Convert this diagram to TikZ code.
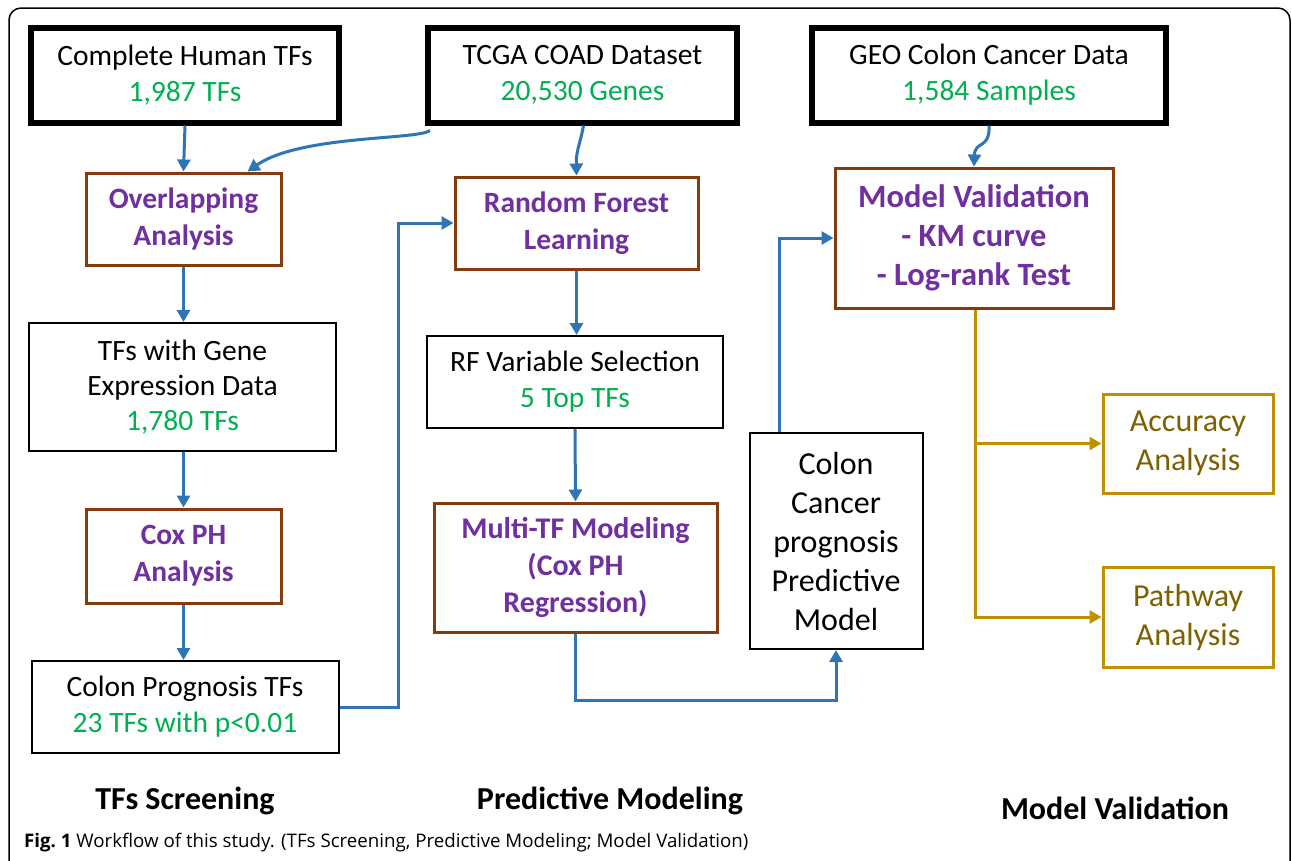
\documentclass[tikz,border=0pt]{standalone}
\usepackage{fontspec}
\setmainfont{Carlito}
\newfontfamily\capfont{Open Sans}
\usetikzlibrary{arrows.meta}
\definecolor{tfgreen}{HTML}{00B050}
\definecolor{tfpurple}{HTML}{7030A0}
\definecolor{tfbrown}{HTML}{843C0C}
\definecolor{tfblue}{HTML}{2E75B6}
\definecolor{tfgold}{HTML}{BF9000}
\definecolor{tfolive}{HTML}{7F6000}
\tikzset{
  base/.style={rectangle, align=center, inner sep=0pt, font=\fontsize{29.5}{36}\selectfont, fill=white},
  srcbox/.style={base, draw=black, line width=6pt},
  procbox/.style={base, draw=tfbrown, line width=3pt, text=tfpurple, font=\fontsize{29.5}{37}\selectfont\bfseries},
  databox/.style={base, draw=black, line width=2pt},
  outbox/.style={base, draw=tfgold, line width=3pt, text=tfolive, font=\fontsize{32}{39}\selectfont},
  flow/.style={draw=tfblue, line width=3pt, -{Triangle[width=13pt,length=12pt]}},
  goldflow/.style={draw=tfgold, line width=3pt, -{Triangle[width=13pt,length=12pt]}},
  phase/.style={font=\fontsize{32}{34}\selectfont\bfseries}
}
\begin{document}
\begin{tikzpicture}[x=1pt,y=-1pt]
\useasboundingbox (0,0) rectangle (1292,860);
\draw[line width=1.5pt, rounded corners=12pt] (9,870) -- (9,8) -- (1290,8) -- (1290,870);

% source boxes
\node[srcbox, minimum width=308, minimum height=95] (c1) at (185,75) {Complete Human TFs\\ \textcolor{tfgreen}{1,987 TFs}};
\node[srcbox, minimum width=309, minimum height=95] (c2) at (582.5,75) {TCGA COAD Dataset\\ \textcolor{tfgreen}{20,530 Genes}};
\node[srcbox, minimum width=354, minimum height=95] (c3) at (989,75) {GEO Colon Cancer Data\\ \textcolor{tfgreen}{1,584 Samples}};

% process boxes
\node[procbox, minimum width=195, minimum height=92] (ov) at (183.5,219) {Overlapping\\Analysis};
\node[procbox, minimum width=243, minimum height=92] (rf) at (576.5,223) {Random Forest\\Learning};
\node[procbox, minimum width=278, minimum height=140, font=\fontsize{32.5}{39}\selectfont\bfseries] (mv) at (974,238) {Model Validation\\- KM curve\\- Log-rank Test};
\node[procbox, minimum width=195, minimum height=94] (cox) at (183.5,556) {Cox PH\\Analysis};
\node[procbox, minimum width=283, minimum height=129, font=\fontsize{30}{37}\selectfont\bfseries] (mt) at (575.5,567.5) {Multi-TF Modeling\\(Cox PH\\Regression)};

% data boxes
\node[databox, minimum width=307, minimum height=128, font=\fontsize{29.5}{35}\selectfont] (tg) at (182.5,387) {TFs with Gene\\Expression Data\\ \textcolor{tfgreen}{1,780 TFs}};
\node[databox, minimum width=296, minimum height=92] (rv) at (575,382) {RF Variable Selection\\ \textcolor{tfgreen}{5 Top TFs}};
\node[databox, minimum width=307, minimum height=92] (cp) at (185,707) {Colon Prognosis TFs\\ \textcolor{tfgreen}{23 TFs with p<0.01}};
\node[databox, minimum width=173, minimum height=216, font=\fontsize{32}{39}\selectfont] (cc) at (836,541) {Colon\\Cancer\\prognosis\\Predictive\\Model};

% output boxes
\node[outbox, minimum width=170, minimum height=99] (acc) at (1188,443.5) {Accuracy\\Analysis};
\node[outbox, minimum width=170, minimum height=100] (pw) at (1188,617) {Pathway\\Analysis};

% phase labels
\node[phase] (p1) at (185,801) {TFs Screening};
\node[phase] (p2) at (610,801) {Predictive Modeling};
\node[phase] (p3) at (1115,808) {Model Validation};

% caption
\node[anchor=west, inner sep=0pt, font=\capfont\fontsize{18.7}{21}\selectfont] (cap) at (24,843) {\textbf{Fig.\ 1} Workflow of this study. (TFs Screening, Predictive Modeling; Model Validation)};

% connectors
\coordinate (c2sw) at ([xshift=5,yshift=-5]c2.south west);
\draw[flow] (c1.south) -- (ov.north);
\draw[flow] (c2sw) .. controls (418,140) and (300,135) .. ([xshift=64]ov.north);
\draw[flow] ([xshift=1]c2.south) .. controls (580,145) and (576,150) .. (rf.north);
\draw[flow] (c3.south) .. controls (990,150) and (975,140) .. (mv.north);
\draw[flow] (ov.south) -- (tg.north -| ov.south);
\draw[flow] (tg.south -| ov.south) -- (cox.north);
\draw[flow] (cox.south) -- (cp.north -| cox.south);
\draw[flow] (cp.east) -- (398,707) |- (rf.west);
\draw[flow] (rf.south) -- (rv.north -| rf.south);
\draw[flow] (rv.south) -- (mt.north);
\draw[flow] (mt.south) -- (575.5,700) -| (cc.south);
\draw[flow] ([xshift=-57]cc.north) |- (mv.west);
\coordinate (gj) at (975,617);
\draw[goldflow] ([xshift=1]mv.south) -- (gj) -- (pw.west);
\draw[goldflow] (975,443.5) -- (acc.west);
\end{tikzpicture}
\end{document}
